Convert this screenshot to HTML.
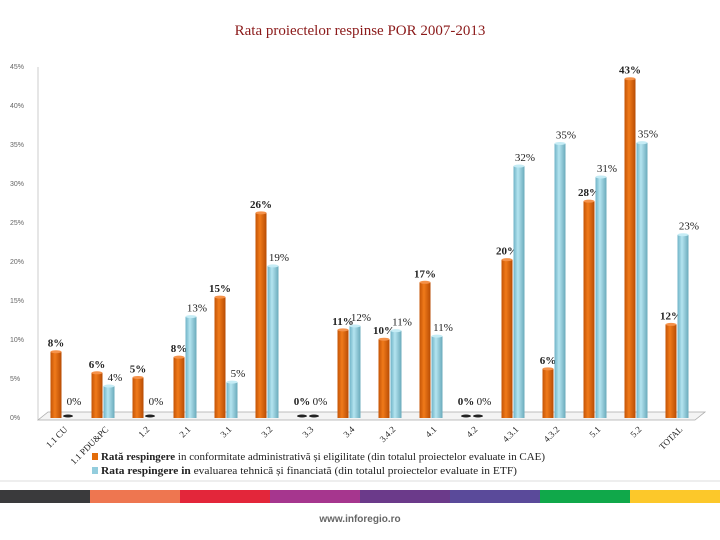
<!DOCTYPE html>
<html><head><meta charset="utf-8"><style>
body{margin:0;width:720px;height:540px;background:#fff;overflow:hidden;font-family:"Liberation Serif",serif}
svg{display:block}
</style></head><body>
<svg width="720" height="540">
<defs>
<linearGradient id="go" x1="0" x2="1"><stop offset="0" stop-color="#c45406"/><stop offset="0.4" stop-color="#f07a1a"/><stop offset="1" stop-color="#b84c04"/></linearGradient>
<linearGradient id="gb" x1="0" x2="1"><stop offset="0" stop-color="#6fb3c6"/><stop offset="0.4" stop-color="#b4e4f0"/><stop offset="1" stop-color="#6aaabb"/></linearGradient>
</defs>
<text x="360" y="35" text-anchor="middle" font-size="15" fill="#8b1a1a">Rata proiectelor respinse POR 2007-2013</text>
<g id="yaxis" font-family="Liberation Sans,sans-serif" font-size="7" fill="#666"></g>
<line x1="38" y1="67" x2="38" y2="420" stroke="#ccc"/>
<polygon points="38,420 48,412 705,412 695,420" fill="#f4f4f4" stroke="#aaa" stroke-width="0.8"/>
<g id="bars"></g>
<g id="xlabels" font-size="9" fill="#222"></g>
<rect x="92" y="453" width="6" height="7" fill="#e36c0a"/>
<text x="101" y="460" font-size="10" fill="#222" textLength="444" lengthAdjust="spacingAndGlyphs"><tspan font-weight="bold">Rată respingere</tspan> in conformitate administrativă și eligilitate (din totalul proiectelor evaluate in CAE)</text>
<rect x="92" y="467" width="6" height="7" fill="#93cddd"/>
<text x="101" y="474" font-size="10" fill="#222" textLength="416" lengthAdjust="spacingAndGlyphs"><tspan font-weight="bold">Rata respingere in</tspan> evaluarea tehnică și financiată (din totalul proiectelor evaluate in ETF)</text>
<line x1="0" y1="481" x2="720" y2="481" stroke="#ddd"/>
<g>
<rect x="0" y="490" width="90" height="13" fill="#3a3a3c"/><rect x="90" y="490" width="90" height="13" fill="#ee7650"/>
<rect x="180" y="490" width="90" height="13" fill="#e3263a"/><rect x="270" y="490" width="90" height="13" fill="#a6368e"/>
<rect x="360" y="490" width="90" height="13" fill="#6b3a8a"/><rect x="450" y="490" width="90" height="13" fill="#5a4a9a"/>
<rect x="540" y="490" width="90" height="13" fill="#10a84a"/><rect x="630" y="490" width="90" height="13" fill="#fcc82a"/>
</g>
<text x="360" y="522" text-anchor="middle" font-family="Liberation Sans,sans-serif" font-size="10" font-weight="bold" fill="#666">www.inforegio.ro</text>
</svg>
<script>
const categories=["1.1 CU","1.1 PDU&PC","1.2","2.1","3.1","3.2","3.3","3.4","3.4.2","4.1","4.2","4.3.1","4.3.2","5.1","5.2","TOTAL"];
const seriesCAE=[8.5,5.8,5.2,7.8,15.5,26.3,0,11.3,10.1,17.4,0,20.3,6.3,27.8,43.5,12.0];
const seriesETF=[0,4.1,0,13.0,4.6,19.5,0,11.8,11.2,10.5,0,32.3,35.2,30.9,35.3,23.5];
const labelsCAE=["8%","6%","5%","8%","15%","26%","0%","11%","10%","17%","0%","20%","6%","28%","43%","12%"];
const labelsETF=["0%","4%","0%","13%","5%","19%","0%","12%","11%","11%","0%","32%","35%","31%","35%","23%"];
const yTicks=[0,5,10,15,20,25,30,35,40,45];
const NS="http://www.w3.org/2000/svg";
const y=v=>418-v*7.8;
const x=i=>56+i*41;
const ya=document.getElementById('yaxis');
yTicks.forEach(t=>{const e=document.createElementNS(NS,'text');e.setAttribute('x',10);e.setAttribute('y',y(t)+2);e.textContent=t+'%';


ya.appendChild(e);});
const g=document.getElementById('bars');
function bar(cx,v,fill,name,lab,bold,dx){
 const w=11,top=y(v),bot=418;
 if(v>0){
 const r=document.createElementNS(NS,'rect');r.setAttribute('x',cx-w/2);r.setAttribute('y',top);r.setAttribute('width',w);r.setAttribute('height',bot-top);r.setAttribute('fill',fill);
 
 
 g.appendChild(r);
 const el=document.createElementNS(NS,'ellipse');el.setAttribute('cx',cx);el.setAttribute('cy',top);el.setAttribute('rx',w/2);el.setAttribute('ry',1.5);el.setAttribute('fill',fill==='url(#go)'?'#f5924a':'#c5ecf5');
 
 
 g.appendChild(el);
 } else {
 const el=document.createElementNS(NS,'ellipse');el.setAttribute('cx',cx);el.setAttribute('cy',416);el.setAttribute('rx',5);el.setAttribute('ry',1.5);el.setAttribute('fill','#222');
 
 
 g.appendChild(el);
 }
 const t=document.createElementNS(NS,'text');t.setAttribute('x',cx+dx);t.setAttribute('y',(v>0?top:410)-5);t.setAttribute('text-anchor','middle');t.setAttribute('font-size','11');if(bold)t.setAttribute('font-weight','bold');t.setAttribute('fill','#222');t.textContent=lab;
 
 
 g.appendChild(t);
}
const xl=document.getElementById('xlabels');
categories.forEach((c,i)=>{
 bar(x(i),seriesCAE[i],'url(#go)','bar-cae-'+i,labelsCAE[i],true,0);
 bar(x(i)+12,seriesETF[i],'url(#gb)','bar-etf-'+i,labelsETF[i],false,6);
 const t=document.createElementNS(NS,'text');const lx=x(i)+12,ly=430;
 t.setAttribute('x',lx);t.setAttribute('y',ly);t.setAttribute('text-anchor','end');t.setAttribute('transform','rotate(-45 '+lx+' '+ly+')');t.textContent=c;
 
 
 xl.appendChild(t);
});
</script>
</body></html>
